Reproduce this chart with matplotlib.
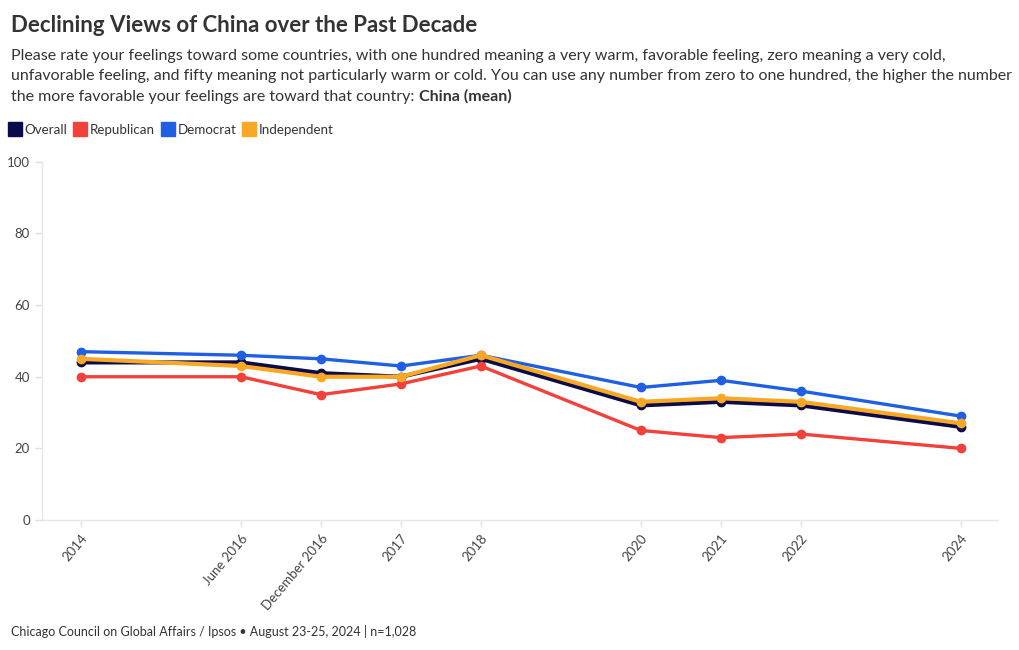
import matplotlib

matplotlib.use("Agg")

import matplotlib.pyplot as plt
from matplotlib.lines import Line2D

plt.rcParams["font.family"] = ["Lato", "DejaVu Sans"]

# survey waves (positions keep the uneven spacing of the original axis)
waves = ["2014", "June 2016", "December 2016", "2017", "2018", "2020", "2021", "2022", "2024"]
wave_pos = [0, 2, 3, 4, 5, 7, 8, 9, 11]

overall = [44, 44, 41, 40, 45, 32, 33, 32, 26]
republican = [40, 40, 35, 38, 43, 25, 23, 24, 20]
democrat = [47, 46, 45, 43, 46, 37, 39, 36, 29]
independent = [45, 43, 40, 40, 46, 33, 34, 33, 27]

series = [
    ("Overall", overall, "#0b0b4a", 3.0),
    ("Republican", republican, "#f2413a", 2.4),
    ("Democrat", democrat, "#1f5fe3", 2.4),
    ("Independent", independent, "#f9a825", 3.0),
]

sub_lines = [
    "Please rate your feelings toward some countries, with one hundred meaning a very warm, favorable feeling, zero meaning a very cold,",
    "unfavorable feeling, and fifty meaning not particularly warm or cold. You can use any number from zero to one hundred, the higher the number",
    "the more favorable your feelings are toward that country: ",
]
sub_bold = "China (mean)"

fig = plt.figure(figsize=(10.2, 6.5), dpi=100)
ax = fig.add_axes([0.041, 0.2, 0.937, 0.551])

for name, vals, color, lw in series:
    ax.plot(wave_pos, vals, color=color, lw=lw, marker="o", markersize=6,
            solid_capstyle="round", solid_joinstyle="round", label=name)

ax.set_xlim(-0.49, 11.46)
ax.set_ylim(0, 100)
ax.set_yticks([0, 20, 40, 60, 80, 100])
ax.set_xticks(wave_pos)
ax.set_xticklabels(waves, rotation=50, ha="right", rotation_mode="anchor")

for s in ["top", "right"]:
    ax.spines[s].set_visible(False)
for s in ["left", "bottom"]:
    ax.spines[s].set_color("#e6e6e6")
    ax.spines[s].set_linewidth(1)
ax.tick_params(axis="both", colors="#e0e0e0", labelcolor="#444444", labelsize=9.5, length=5, width=1)
ax.tick_params(axis="x", pad=4)

fig.text(0.011, 0.951, "Declining Views of China over the Past Decade", fontsize=16,
         fontweight="bold", color="#333333", va="baseline")

y0 = 0.908
step = 0.0315
last = None
for i, line in enumerate(sub_lines):
    last = fig.text(0.011, y0 - i * step, line, fontsize=11.5, color="#333333", va="baseline")

fig.canvas.draw()
bb = last.get_window_extent().transformed(fig.transFigure.inverted())
fig.text(bb.x1, y0 - 2 * step, sub_bold, fontsize=11.5, fontweight="bold",
         color="#333333", va="baseline")

handles = [Line2D([], [], marker="s", linestyle="none", markersize=10, color=c,
                  markeredgecolor=c) for _, _, c, _ in series]
fig.legend(handles, [n for n, _, _, _ in series], loc="upper left",
           bbox_to_anchor=(0.004, 0.818), ncol=4, frameon=False, fontsize=9.6,
           handlelength=0.8, handletextpad=0.3, columnspacing=0.6, borderaxespad=0,
           labelcolor="#333333")

fig.text(0.011, 0.022, "Chicago Council on Global Affairs / Ipsos \u2022 August 23-25, 2024 | n=1,028",
         fontsize=9.0, color="#333333")

fig.savefig("out.png", dpi=100)
